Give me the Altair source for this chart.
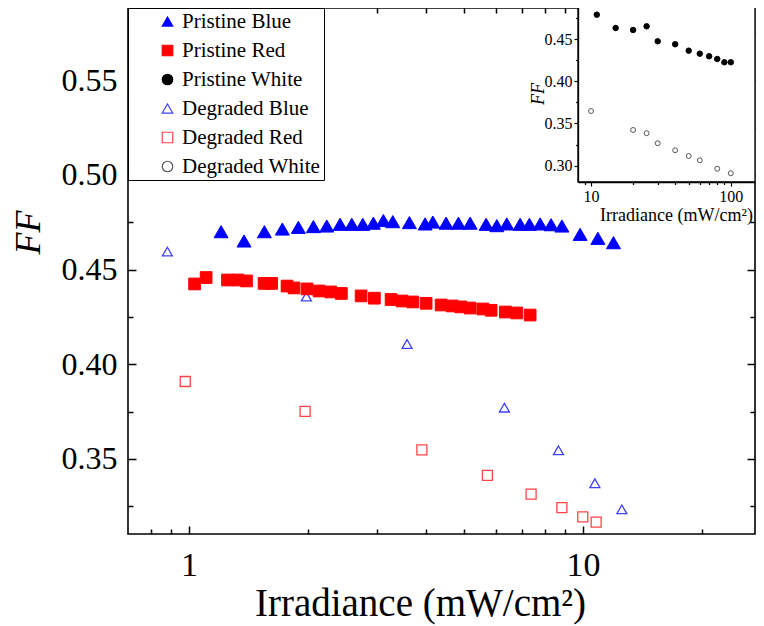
import altair as alt
import pandas as pd

FONT = "Liberation Serif"

SERIES = ["Pristine Blue", "Pristine Red", "Pristine White",
          "Degraded Blue", "Degraded Red", "Degraded White"]
SHAPES = ["triangle-up", "square", "circle", "triangle-up", "square", "circle"]
FILLS = ["#0000ff", "#ff0000", "#000000", "transparent", "transparent", "transparent"]
STROKES = ["#0000ff", "#ff0000", "#000000", "#3f3fff", "#ff4545", "#555555"]
SIZES = [196, 137, 30, 100, 100, 24]

# main panel data (irradiance mW/cm2, FF)
pb_x = [1.206, 1.379, 1.553, 1.725, 1.894, 2.068, 2.236, 2.417, 2.588, 2.760,
        2.936, 3.113, 3.289, 3.624, 3.972, 4.155, 4.490, 4.826, 5.168, 5.673,
        6.039, 6.402, 6.921, 7.307, 7.780, 8.294, 8.833, 9.826, 10.90, 11.94]
pb_y = [0.4700, 0.4651, 0.4700, 0.4714, 0.4723, 0.4727, 0.4730, 0.4739, 0.4739, 0.4739,
        0.4745, 0.4759, 0.4753, 0.4748, 0.4741, 0.4751, 0.4745, 0.4745, 0.4745, 0.4739,
        0.4732, 0.4741, 0.4739, 0.4739, 0.4741, 0.4737, 0.4730, 0.4686, 0.4665, 0.4642]

pr_x = [1.033, 1.105, 1.252, 1.331, 1.399, 1.550, 1.620, 1.773, 1.847, 1.993,
        2.138, 2.289, 2.435, 2.733, 2.953, 3.256, 3.472, 3.697, 3.996, 4.361,
        4.651, 4.893, 5.168, 5.566, 5.843, 6.350, 6.788, 7.337]
pr_y = [0.4424, 0.4458, 0.4445, 0.4445, 0.4440, 0.4427, 0.4427, 0.4413, 0.4403, 0.4398,
        0.4387, 0.4382, 0.4374, 0.4361, 0.4349, 0.4342, 0.4334, 0.4329, 0.4322, 0.4313,
        0.4308, 0.4303, 0.4297, 0.4292, 0.4285, 0.4276, 0.4271, 0.4260]

db_x = [0.881, 1.033, 1.985, 3.575, 6.313, 8.658, 10.71, 12.54]
db_y = [0.4595, 0.4424, 0.4358, 0.4107, 0.3771, 0.3546, 0.3372, 0.3234]

dr_x = [0.978, 1.970, 3.898, 5.716, 7.379, 8.833, 9.98, 10.79]
dr_y = [0.3909, 0.3751, 0.3548, 0.3414, 0.3315, 0.3243, 0.3194, 0.3167]

# inset data
pw_x = [11, 15, 20, 25, 30, 40, 50, 60, 70, 80, 90, 100]
pw_y = [0.4792, 0.4634, 0.4610, 0.4654, 0.4476, 0.4441, 0.4365, 0.4329, 0.4298, 0.4266, 0.4227, 0.4227]
dw_x = [10, 20, 25, 30, 40, 50, 60, 80, 100]
dw_y = [0.3648, 0.3423, 0.3384, 0.3265, 0.3182, 0.3114, 0.3063, 0.2963, 0.2909]

# axes
X_DOMAIN = [0.70, 27.3]
Y_DOMAIN = [0.3104, 0.5881]
X_MAJOR = [1, 10]
X_MINOR = [0.8, 0.9, 2, 3, 4, 5, 6, 7, 8, 9, 20]
Y_MAJOR = [0.35, 0.40, 0.45, 0.50, 0.55]
Y_MINOR = [0.325, 0.375, 0.425, 0.475, 0.525, 0.575]

IX_DOMAIN = [8.07, 149]
IY_DOMAIN = [0.2805, 0.4907]
IX_MAJOR = [10, 100]
IX_MINOR = [9, 20, 30, 40, 50, 60, 70, 80, 90]
IY_MAJOR = [0.30, 0.35, 0.40, 0.45]
IY_MINOR = [0.325, 0.375, 0.425, 0.475]

W, H = 627, 526
INSET_LEFT, INSET_BOTTOM = 450, 174


def frame(name, xs, ys):
    return pd.DataFrame({"x": xs, "y": ys, "series": name})


legend = alt.Legend(
    title=None, orient="none", legendX=0, legendY=0,
    strokeColor="black", fillColor="white", padding=3, cornerRadius=0,
    labelFont=FONT, labelFontSize=21, labelColor="black", labelLimit=300,
    rowPadding=7.0, symbolSize=110, symbolOffset=26, labelOffset=4,
    symbolStrokeWidth=1.2, symbolOpacity=1,
)

shape_enc = alt.Shape("series:N", scale=alt.Scale(domain=SERIES, range=SHAPES), legend=legend)
fill_enc = alt.Fill("series:N", scale=alt.Scale(domain=SERIES, range=FILLS), legend=legend)
stroke_enc = alt.Stroke("series:N", scale=alt.Scale(domain=SERIES, range=STROKES), legend=legend)

x_main = alt.Scale(type="log", domain=X_DOMAIN, nice=False)
y_main = alt.Scale(domain=Y_DOMAIN, nice=False, zero=False)

common = dict(grid=False, domain=False, tickColor="black", tickWidth=1.5,
              labelFont=FONT, labelColor="black", titleFont=FONT, titleColor="black",
              titleFontWeight="normal", zindex=0)


def ax(orient, values, size, labels=False, **kw):
    opts = dict(common)
    opts.update(kw)
    if not labels:
        opts["labels"] = False
        opts["title"] = None
    return alt.Axis(orient=orient, values=values, tickSize=size, offset=-size, **opts)


ax_xb = ax("bottom", X_MAJOR, 8, labels=True, format=".0f", labelFontSize=34,
           labelPadding=14, labelFlush=False, labelOverlap=False,
           title="Irradiance (mW/cm²)", titleFontSize=39, titleX=292, titleY=89,
           titleBaseline="alphabetic")
ax_xb_minor = ax("bottom", X_MINOR, 5)
ax_xt = ax("top", X_MAJOR, 8)
ax_xt_minor = ax("top", X_MINOR, 5)

ax_yl = ax("left", Y_MAJOR, 8, labels=True, format=".2f", labelFontSize=32,
           labelPadding=11, labelFlush=False, labelOverlap=False,
           title="FF", titleFontStyle="italic", titleFontSize=36,
           titleX=-108, titleY=224, titleAngle=270, titleBaseline="middle")
ax_yl_minor = ax("left", Y_MINOR, 5)
ax_yr = ax("right", Y_MAJOR, 8)
ax_yr_minor = ax("right", Y_MINOR, 5)


def points(name, xs, ys, xaxis, yaxis, xscale, yscale, sw):
    i = SERIES.index(name)
    return alt.Chart(frame(name, xs, ys)).mark_point(
        size=SIZES[i], opacity=1, strokeWidth=sw
    ).encode(
        x=alt.X("x:Q", scale=xscale, axis=xaxis),
        y=alt.Y("y:Q", scale=yscale, axis=yaxis),
        shape=shape_enc, fill=fill_enc, stroke=stroke_enc,
    )


main = alt.layer(
    points("Degraded Blue", db_x, db_y, ax_xb, ax_yl, x_main, y_main, 1.3),
    points("Degraded Red", dr_x, dr_y, ax_xb_minor, ax_yl_minor, x_main, y_main, 1.3),
    points("Pristine Blue", pb_x, pb_y, ax_xt, ax_yr, x_main, y_main, 1),
    points("Pristine Red", pr_x, pr_y, ax_xt_minor, ax_yr_minor, x_main, y_main, 1),
).resolve_axis(x="independent", y="independent")

# inset
x_in = alt.Scale(type="log", domain=IX_DOMAIN, nice=False, range=[INSET_LEFT, W])
y_in = alt.Scale(domain=IY_DOMAIN, nice=False, zero=False, range=[INSET_BOTTOM, -3])

icommon = dict(grid=False, tickColor="black", tickWidth=1.2, domainColor="black",
               domainWidth=1.3, labelFont=FONT, labelColor="black", titleFont=FONT,
               titleColor="black", titleFontWeight="normal", zindex=2)

iax_x = alt.Axis(orient="bottom", values=IX_MAJOR, format=".0f", tickSize=4,
                 offset=-(H - INSET_BOTTOM), domain=True, labelFontSize=16,
                 labelPadding=2, labelFlush=False, title="Irradiance (mW/cm²)",
                 titleFontSize=18, titleX=548, titleY=38, titleBaseline="alphabetic",
                 **icommon)
iax_x_minor = alt.Axis(orient="bottom", values=IX_MINOR, tickSize=2.5,
                       offset=-(H - INSET_BOTTOM), domain=False, labels=False,
                       title=None, **icommon)
iax_y = alt.Axis(orient="left", values=IY_MAJOR, format=".2f", tickSize=4,
                 offset=-INSET_LEFT, domain=True, labelFontSize=16, labelPadding=2,
                 labelFlush=False, title="FF", titleFontStyle="italic",
                 titleFontSize=18, titleX=-40, titleAngle=270, titleBaseline="middle",
                 **icommon)
iax_y_minor = alt.Axis(orient="left", values=IY_MINOR, tickSize=2.5,
                       offset=-INSET_LEFT, domain=False, labels=False, title=None,
                       **icommon)

panel = pd.DataFrame({"x0": [IX_DOMAIN[0]], "x1": [IX_DOMAIN[1]],
                      "y0": [IY_DOMAIN[0]], "y1": [IY_DOMAIN[1]]})
inset_bg = alt.Chart(panel).mark_rect(
    fill="white", stroke="black", strokeWidth=1.3, clip=True
).encode(
    x=alt.X("x0:Q", scale=x_in, axis=None), x2="x1:Q",
    y=alt.Y("y0:Q", scale=y_in, axis=None), y2="y1:Q",
)

inset = alt.layer(
    inset_bg,
    points("Pristine White", pw_x, pw_y, iax_x, iax_y, x_in, y_in, 1),
    points("Degraded White", dw_x, dw_y, iax_x_minor, iax_y_minor, x_in, y_in, 1),
).resolve_axis(x="independent", y="independent")

chart = alt.layer(main, inset).resolve_scale(
    x="independent", y="independent"
).properties(
    width=W, height=H, autosize="none",
    padding={"left": 120, "top": 0, "right": 1, "bottom": 92},
).configure(
    font=FONT
).configure_view(
    stroke="black", strokeWidth=1.6
)

chart.save("out.html", embed_options={"renderer": "svg", "actions": False})
